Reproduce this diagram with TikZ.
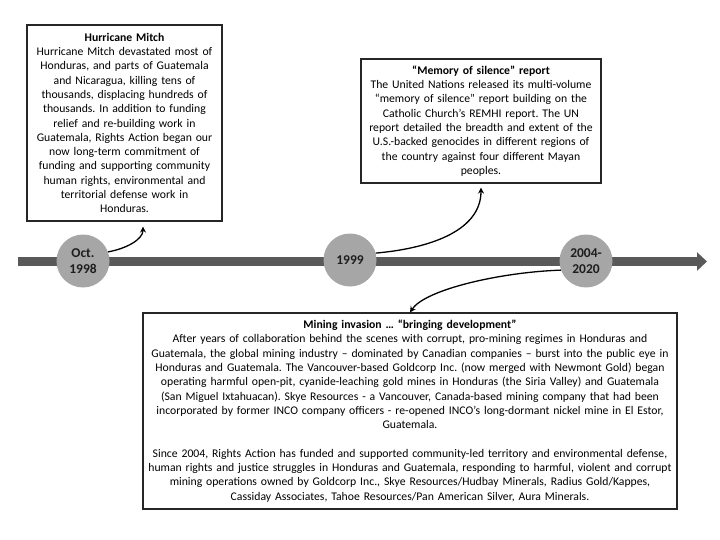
\documentclass[tikz,border=0pt]{standalone}
\usepackage{fontspec}
\setmainfont{Carlito}
\frenchspacing
\usepackage{tikz}
\usetikzlibrary{
    arrows.meta,
    positioning,
    calc
}
\definecolor{Tbar}{RGB}{89, 89, 89}
\definecolor{Tball}{RGB}{166, 166, 166}
\definecolor{Tink}{RGB}{30, 30, 30}
\tikzset{
    tball/.style={
        circle, fill=Tball, minimum size=53pt, inner sep=0pt,
        align=center, text=Tink, font=\fontsize{13.5}{16}\selectfont\bfseries
    },
    tbox/.style={
        rectangle, draw=black!85, line width=1.1pt, fill=white,
        align=center, font=\fontsize{11.7}{14.3}\selectfont,
        inner xsep=4pt, inner ysep=0pt
    },
    tline/.style={line width=9.5pt, Tbar, -{Triangle[length=10pt, width=18pt]}},
    tarr/.style={-{Stealth[length=6pt, width=6pt]}, line width=1.3pt, black},
}

\begin{document}
\begin{tikzpicture}[x=1pt, y=-1pt]

    \useasboundingbox (0,0) rectangle (720,540);

    % ── timeline ─────────────────────────────────────────
    \coordinate (tstart) at (18,261.5);
    \coordinate (tend) at (707,261.5);
    \draw [tline] (tstart) -- (tend);

    \node [tball] (y1998) at (83,261) {Oct.\\1998};
    \node [tball] (y1999) at (350,260) {1999};
    \node [tball] (y2004) at (586,261) {2004-\\2020};

    % ── event boxes ──────────────────────────────────────
    \node [tbox, text width=187pt, minimum height=196pt]
        (mitch) at (124.5,123) {\textbf{Hurricane Mitch}\\
        Hurricane Mitch devastated most of\\
        Honduras, and parts of Guatemala\\
        and Nicaragua, killing tens of\\
        thousands, displacing hundreds of\\
        thousands. In addition to funding\\
        relief and re-building work in\\
        Guatemala, Rights Action began our\\
        now long-term commitment of\\
        funding and supporting community\\
        human rights, environmental and\\
        territorial defense work in\\
        Honduras.};
    \node [tbox, text width=232pt, minimum height=124pt]
        (silence) at (481,121) {\textbf{“Memory of silence” report}\\
        The United Nations released its multi-volume\\
        “memory of silence” report building on the\\
        Catholic Church’s REMHI report. The UN\\
        report detailed the breadth and extent of the\\
        U.S.-backed genocides in different regions of\\
        the country against four different Mayan\\
        peoples.};
    \node [tbox, text width=526pt, minimum height=196pt]
        (mining) at (410,411) {\textbf{Mining invasion … “bringing development”}\\
        After years of collaboration behind the scenes with corrupt, pro-mining regimes in Honduras and\\
        Guatemala, the global mining industry – dominated by Canadian companies – burst into the public eye in\\
        Honduras and Guatemala. The Vancouver-based Goldcorp Inc. (now merged with Newmont Gold) began\\
        operating harmful open-pit, cyanide-leaching gold mines in Honduras (the Siria Valley) and Guatemala\\
        (San Miguel Ixtahuacan). Skye Resources - a Vancouver, Canada-based mining company that had been\\
        incorporated by former INCO company officers - re-opened INCO’s long-dormant nickel mine in El Estor,\\
        Guatemala.\\[14.3pt]
        Since 2004, Rights Action has funded and supported community-led territory and environmental defense,\\
        human rights and justice struggles in Honduras and Guatemala, responding to harmful, violent and corrupt\\
        mining operations owned by Goldcorp Inc., Skye Resources/Hudbay Minerals, Radius Gold/Kappes,\\
        Cassiday Associates, Tahoe Resources/Pan American Silver, Aura Minerals.};

    % ── arrows ───────────────────────────────────────────
    \draw [tarr, shorten >=5pt] (y1998.20) to[out=10, in=-90] ([xshift=18.5pt]mitch.south);
    \draw [tarr, shorten >=4pt] (y1999.15) to[out=5, in=-90] (silence.south);
    \draw [tarr] (y2004.200) .. controls +(-60,2) and +(15,-23) .. (mining.north);

\end{tikzpicture}
\end{document}
